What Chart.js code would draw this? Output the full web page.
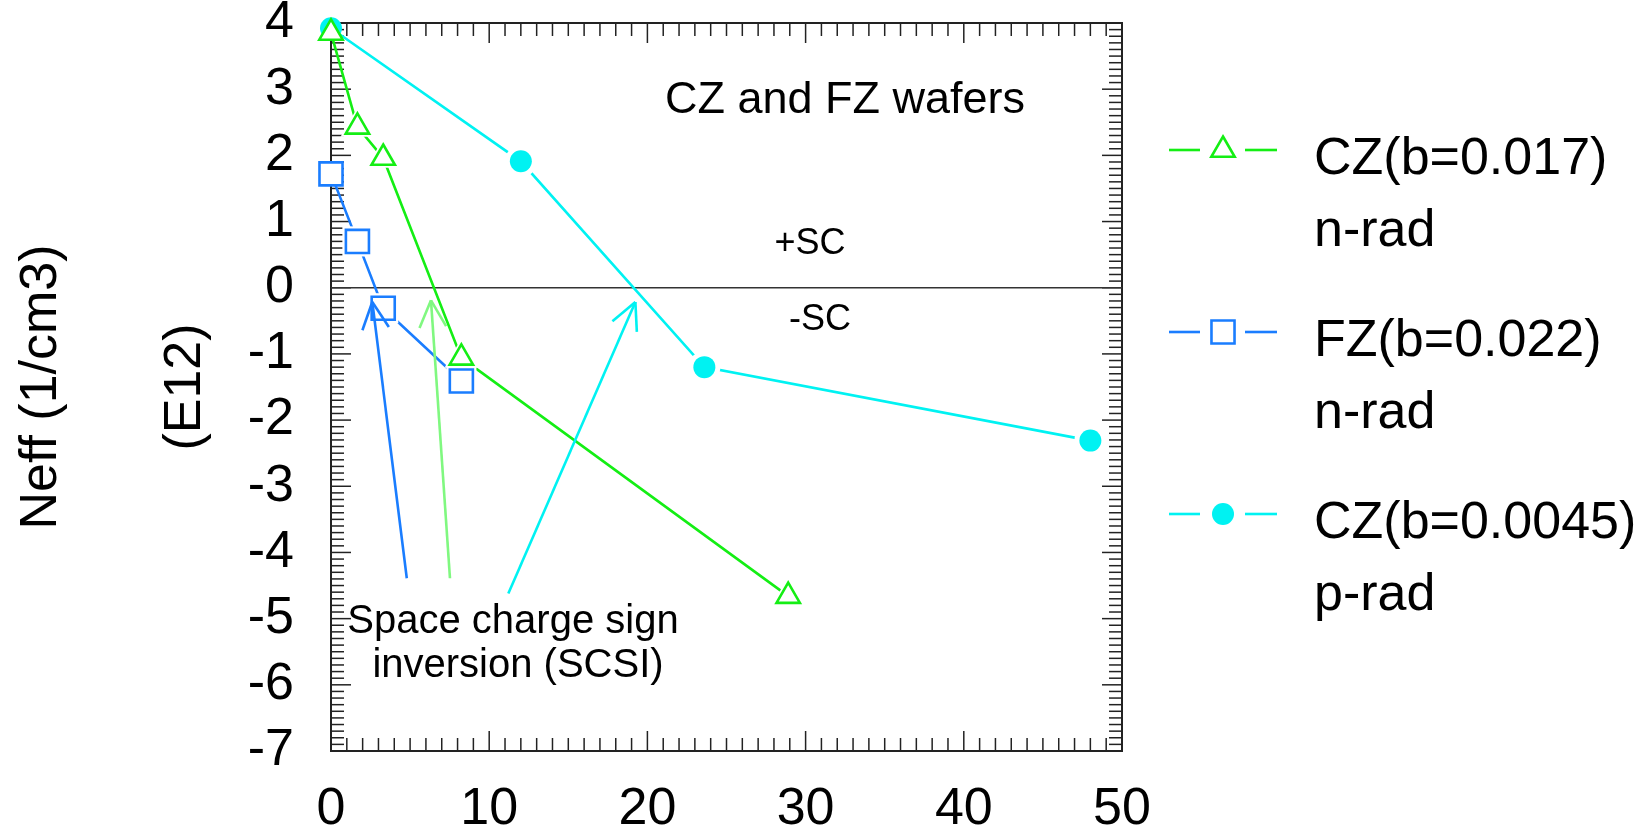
<!DOCTYPE html>
<html>
<head>
<meta charset="utf-8">
<title>Neff vs fluence - CZ and FZ wafers</title>
<script src="https://cdn.jsdelivr.net/npm/chart.js@4.4.1/dist/chart.umd.min.js"></script>
<style>
  html, body { margin: 0; padding: 0; background: #fff; }
  #wrap { width: 1649px; height: 832px; }
</style>
</head>
<body>
<div id="wrap"><canvas id="neffChart" width="1649" height="832"></canvas></div>
<script>
// values (x: fluence, y: Neff in units of E12 1/cm3)
const czNX = [0, 1.67, 3.3, 8.24, 28.9];
const czNY = [3.85, 2.43, 1.96, -1.06, -4.66];
const fzNX = [0, 1.67, 3.3, 8.24];
const fzNY = [1.72, 0.70, -0.31, -1.41];
const czPX = [0, 12.0, 23.6, 48.0];
const czPY = [3.92, 1.91, -1.2, -2.31];

const seriesLabels = [['CZ(b=0.017)', 'n-rad'], ['FZ(b=0.022)', 'n-rad'], ['CZ(b=0.0045)', 'p-rad']];
const xTicks = [0, 10, 20, 30, 40, 50];
const yTicks = [-7, -6, -5, -4, -3, -2, -1, 0, 1, 2, 3, 4];

// SCSI arrows, [x, y] in data units
const arrows = [
    { color: '#1a7dff', from: [4.79, -4.39], to: [2.61, -0.215] },
    { color: '#80f880', from: [7.52, -4.39], to: [6.32, -0.19] },
    { color: '#00f2f2', from: [11.21, -4.62], to: [19.24, -0.215] }
];

const GREEN = '#14ee14';
const BLUE = '#1a7dff';
const CYAN = '#00f2f2';
const FONT = "'Liberation Sans', Arial, Helvetica, sans-serif";

const styles = [
    { color: GREEN, pointStyle: 'triangle', radius: 13.5, filled: false, mask: 19.5 },
    { color: BLUE, pointStyle: 'rect', radius: 16.3, filled: false, mask: 21.3 },
    { color: CYAN, pointStyle: 'circle', radius: 11, filled: true, mask: 16 }
];
const series = [[czNX, czNY], [fzNX, fzNY], [czPX, czPY]];

function pts(xs, ys) {
    return xs.map((x, i) => ({ x: x, y: ys[i] }));
}

const datasets = [];
series.forEach(function(s, i) {
    const st = styles[i];
    // connecting line
    datasets.push({
        data: pts(s[0], s[1]), showLine: true, borderColor: st.color, borderWidth: 2.6,
        pointRadius: 0, order: 3, clip: false
    });
    // white halo so the line stops short of the symbol
    datasets.push({
        data: pts(s[0], s[1]), showLine: false, pointStyle: st.pointStyle,
        pointRadius: s[0].map(x => x === 0 ? 0 : st.mask),
        pointBackgroundColor: '#ffffff', pointBorderWidth: 0, order: 2, clip: false
    });
    // symbols
    datasets.push({
        data: pts(s[0], s[1]), showLine: false, pointStyle: st.pointStyle,
        pointRadius: st.radius,
        pointBackgroundColor: st.filled ? st.color : '#ffffff',
        pointBorderColor: st.color, pointBorderWidth: st.filled ? 0 : 2.6,
        order: 1, clip: false
    });
});

function line(ctx, x1, y1, x2, y2) {
    ctx.beginPath();
    ctx.moveTo(x1, y1);
    ctx.lineTo(x2, y2);
    ctx.stroke();
}

// frame with inward ticks on all four sides + zero line
const framePlugin = {
    id: 'frame',
    beforeDatasetsDraw(chart) {
        const ctx = chart.ctx;
        const { left, right, top, bottom } = chart.chartArea;
        const xs = chart.scales.x, ys = chart.scales.y;
        ctx.save();
        ctx.strokeStyle = '#222';
        ctx.lineWidth = 1.5;
        for (let k = 0; k <= 50; k++) {
            const px = xs.getPixelForValue(k);
            const len = k % 10 === 0 ? 20 : 13;
            line(ctx, px, bottom, px, bottom - len);
            line(ctx, px, top, px, top + len);
        }
        for (let k = -70; k <= 40; k++) {
            const py = ys.getPixelForValue(k / 10);
            const len = k % 10 === 0 ? 20 : 13;
            line(ctx, left, py, left + len, py);
            line(ctx, right, py, right - len, py);
        }
        ctx.lineWidth = 2;
        ctx.strokeRect(left, top, right - left, bottom - top);
        ctx.lineWidth = 1.4;
        ctx.strokeStyle = '#333';
        const y0 = ys.getPixelForValue(0);
        line(ctx, left, y0, right, y0);
        ctx.restore();
    },
    afterDatasetsDraw(chart) {
        const ctx = chart.ctx;
        const xs = chart.scales.x, ys = chart.scales.y;
        ctx.save();
        ctx.lineWidth = 2.6;
        arrows.forEach(function(a) {
            const x1 = xs.getPixelForValue(a.from[0]), y1 = ys.getPixelForValue(a.from[1]);
            const x2 = xs.getPixelForValue(a.to[0]), y2 = ys.getPixelForValue(a.to[1]);
            ctx.strokeStyle = a.color;
            line(ctx, x1, y1, x2, y2);
            const ang = Math.atan2(y1 - y2, x1 - x2);
            const hl = 30, spread = 0.46;
            line(ctx, x2, y2, x2 + hl * Math.cos(ang - spread), y2 + hl * Math.sin(ang - spread));
            line(ctx, x2, y2, x2 + hl * Math.cos(ang + spread), y2 + hl * Math.sin(ang + spread));
        });
        ctx.restore();
    },
    afterDraw(chart) {
        const ctx = chart.ctx;
        ctx.save();
        ctx.fillStyle = '#000';
        ctx.textAlign = 'center';
        ctx.textBaseline = 'middle';
        ctx.font = '45px ' + FONT;
        ctx.fillText('CZ and FZ wafers', 845, 101);
        ctx.font = '36px ' + FONT;
        ctx.fillText('+SC', 810, 244);
        ctx.fillText('-SC', 820, 320);
        ctx.textBaseline = 'alphabetic';
        ctx.font = '40px ' + FONT;
        ctx.fillText('Space charge sign', 513, 633);
        ctx.fillText('inversion (SCSI)', 518, 677);

        // legend
        const legendY = [150, 332, 514];
        styles.forEach(function(st, i) {
            const y = legendY[i];
            ctx.strokeStyle = st.color;
            ctx.lineWidth = 2.6;
            line(ctx, 1169, y, 1200, y);
            line(ctx, 1245, y, 1277, y);
            ctx.fillStyle = st.filled ? st.color : '#ffffff';
            Chart.helpers.drawPoint(ctx, {
                pointStyle: st.pointStyle, radius: st.radius, rotation: 0,
                borderWidth: st.filled ? 0 : 2.6
            }, 1223, y);
            ctx.fillStyle = '#000';
            ctx.textAlign = 'left';
            ctx.textBaseline = 'alphabetic';
            ctx.font = '52px ' + FONT;
            ctx.fillText(seriesLabels[i][0], 1314, y + 24);
            ctx.fillText(seriesLabels[i][1], 1314, y + 96);
        });
        ctx.restore();
    }
};

new Chart(document.getElementById('neffChart'), {
    type: 'scatter',
    data: { datasets: datasets },
    options: {
        responsive: false,
        animation: false,
        devicePixelRatio: 1,
        events: [],
        layout: { padding: { top: 23, right: 527, bottom: 0, left: 0 } },
        plugins: { legend: { display: false }, tooltip: { enabled: false } },
        scales: {
            x: {
                type: 'linear', min: 0, max: 50,
                grid: { display: false, drawTicks: false },
                border: { display: false },
                afterBuildTicks: s => { s.ticks = xTicks.map(v => ({ value: v })); },
                ticks: { color: '#000', padding: 27, maxRotation: 0, font: { family: FONT, size: 52 } },
                afterFit: s => { s.height = 81; s.paddingLeft = 0; s.paddingRight = 0; }
            },
            y: {
                type: 'linear', min: -7, max: 4,
                grid: { display: false, drawTicks: false },
                border: { display: false },
                afterBuildTicks: s => { s.ticks = yTicks.map(v => ({ value: v })); },
                ticks: { color: '#000', padding: 37, font: { family: FONT, size: 52 } },
                title: {
                    display: true, text: ['Neff (1/cm3)', '(E12)'], color: '#000',
                    padding: { top: -30, bottom: 0 },
                    font: { family: FONT, size: 52, lineHeight: 144 / 52 }
                },
                afterFit: s => { s.width = 331; s.paddingTop = 0; s.paddingBottom = 0; }
            }
        }
    },
    plugins: [framePlugin]
});
</script>
</body>
</html>
